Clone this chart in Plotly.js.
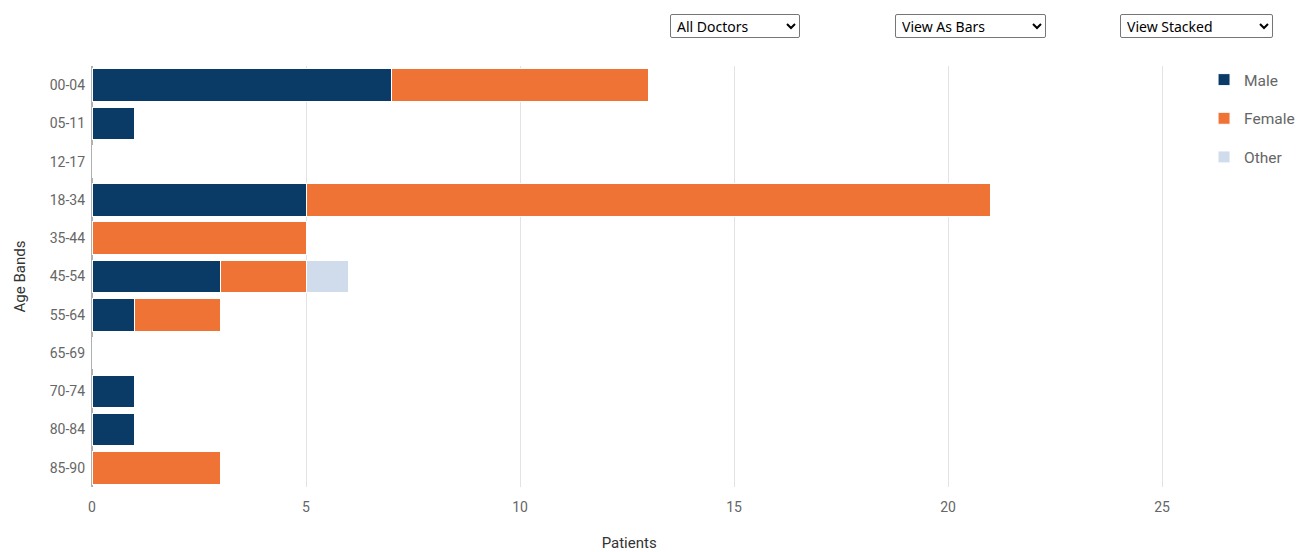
<!DOCTYPE html>
<html>
<head>
<meta charset="utf-8">
<script src="https://cdn.plot.ly/plotly-3.0.1.min.js"></script>
<style>
  html, body { margin: 0; padding: 0; background: #fff; }
  #wrap { position: relative; width: 1308px; height: 552px; }
  #chart { position: absolute; left: 0; top: 0; width: 1308px; height: 552px; }
  select {
    position: absolute; top: 14px; height: 24px;
    font-family: "Noto Sans", "Open Sans", sans-serif; font-size: 14px;
    color: #000; background: #fff; border: 1px solid #767676; border-radius: 2px;
    padding: 0 2px; z-index: 5;
  }
</style>
</head>
<body>
<div id="wrap">
  <select id="s1" style="left:670px;width:130px;"><option>All Doctors</option></select>
  <select id="s2" style="left:895px;width:151px;"><option>View As Bars</option></select>
  <select id="s3" style="left:1120px;width:153px;"><option>View Stacked</option></select>
  <div id="chart"></div>
</div>
<script>
const ageBands = ["00-04","05-11","12-17","18-34","35-44","45-54","55-64","65-69","70-74","80-84","85-90"];
const maleValues   = [7, 1, 0, 5, 0, 3, 1, 0, 1, 1, 0];
const femaleValues = [6, 0, 0, 16, 5, 2, 2, 0, 0, 0, 3];
const otherValues  = [0, 0, 0, 0, 0, 1, 0, 0, 0, 0, 0];
const seriesNames  = ["Male", "Female", "Other"];
const xTicks = [0, 5, 10, 15, 20, 25];

const colors = ["#0a3a66", "#f07336", "#d0dcec"];
const allValues = [maleValues, femaleValues, otherValues];

const traces = allValues.map((vals, i) => ({
  type: "bar",
  orientation: "h",
  name: seriesNames[i],
  legendgroup: seriesNames[i],
  y: ageBands,
  x: vals,
  marker: { color: colors[i], line: { color: "#ffffff", width: 1 } },
  hoverinfo: "x+y+name"
}));

const layout = {
  width: 1308, height: 552,
  margin: { l: 92, r: 0, t: 66, b: 65 },
  paper_bgcolor: "#fff", plot_bgcolor: "#fff",
  barmode: "stack",
  bargap: 0.15,
  font: { family: "Roboto, sans-serif", size: 14, color: "#666" },
  showlegend: true,
  legend: {
    x: 0.9145, xanchor: "left", y: 1.007, yanchor: "top",
    traceorder: "grouped", tracegroupgap: 15.5,
    bgcolor: "rgba(0,0,0,0)",
    font: { size: 15.5, color: "#666" }
  },
  xaxis: {
    domain: [0, 0.8835],
    range: [0, 25.1],
    tickvals: xTicks, ticktext: xTicks.map(String),
    showgrid: true, gridcolor: "#e3e3e3", gridwidth: 1,
    zeroline: true, zerolinecolor: "#b0b0b0", zerolinewidth: 2,
    showline: false, ticks: "", ticklabelstandoff: 10,
    tickfont: { size: 14, color: "#666" },
    title: { text: "Patients", font: { size: 15, color: "#333" }, standoff: 32 },
    fixedrange: true
  },
  yaxis: {
    type: "category",
    categoryorder: "array", categoryarray: ageBands,
    autorange: "reversed",
    showgrid: false, zeroline: false, showline: false,
    ticks: "", ticklabelstandoff: 6,
    tickfont: { size: 14, color: "#666" },
    title: { text: "Age Bands", font: { size: 15, color: "#333" }, standoff: 20 },
    fixedrange: true
  }
};

Plotly.newPlot("chart", traces, layout, { displayModeBar: false });
</script>
</body>
</html>
